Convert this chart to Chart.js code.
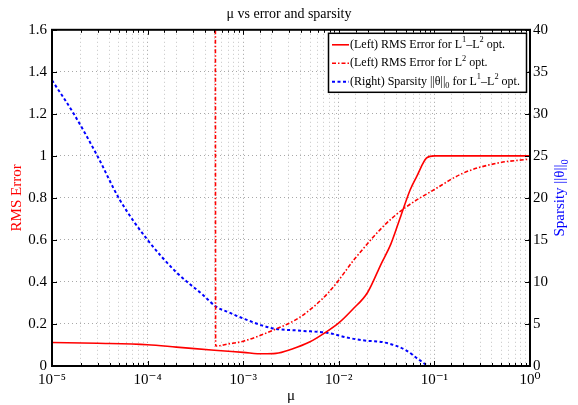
<!DOCTYPE html>
<html><head><meta charset="utf-8">
<script src="https://cdn.jsdelivr.net/npm/chart.js@4.4.1/dist/chart.umd.min.js"></script>
<style>html,body{margin:0;padding:0;background:#fff;overflow:hidden}#wrap{width:578px;height:405px;position:relative}</style>
</head><body><div id="wrap"><canvas id="c" width="578" height="405"></canvas></div>
<script>
// ---- data ----
const muL1L2  = [1e-5, 3e-5, 1e-4, 2e-4, 5e-4, 1e-3, 1.6e-3, 2.2e-3, 3.2e-3, 5e-3, 7e-3, 0.01, 0.014, 0.02, 0.028, 0.035, 0.045, 0.056, 0.065, 0.083, 0.1, 0.3, 1];
const rmsL1L2 = [0.112, 0.108, 0.101, 0.090, 0.075, 0.065, 0.058, 0.060, 0.080, 0.115, 0.155, 0.205, 0.27, 0.35, 0.49, 0.58, 0.72, 0.84, 0.90, 0.99, 1.0, 1.0, 1.0];

const muL2  = [5.1e-4, 5.15e-4, 7e-4, 1e-3, 2e-3, 4e-3, 8e-3, 0.015, 0.03, 0.05, 0.1, 0.2, 0.45, 1];
const rmsL2 = [3.0, 0.095, 0.105, 0.118, 0.168, 0.235, 0.355, 0.515, 0.67, 0.755, 0.84, 0.918, 0.965, 0.985];

const muSparsity = [1e-5, 1.67e-5, 2.95e-5, 5.1e-5, 1e-4, 2e-4, 3.8e-4, 5.2e-4, 7.2e-4, 9.3e-4, 2e-3, 4e-3, 8e-3, 0.012, 0.018, 0.03, 0.05, 0.07, 0.09, 0.2, 1];
const sparsity   = [34.0, 30.1, 25.1, 19.8, 15.0, 11.15, 8.45, 7.06, 6.35, 5.8, 4.5, 4.2, 3.9, 3.4, 3.05, 2.8, 1.9, 0.7, 0, 0, 0];

const xDecades = [-5, -4, -3, -2, -1, 0];
const leftTickStep = 0.2, leftMax = 1.6;
const rightTickStep = 5, rightMax = 40;

const titleText = 'μ vs error and sparsity';
const xTitle = 'μ';
const yTitle = 'RMS Error';
const legendRows = [
  [{t:'(Left) RMS Error for L'},{t:'1',s:1},{t:'–L'},{t:'2',s:1},{t:' opt.'}],
  [{t:'(Left) RMS Error for L'},{t:'2',s:1},{t:' opt.'}],
  [{t:'(Right) Sparsity ||θ||'},{t:'0',s:-1},{t:' for L'},{t:'1',s:1},{t:'–L'},{t:'2',s:1},{t:' opt.'}]
];
const y2Title = [{t:'Sparsity ||θ||'},{t:'0',s:-1}];

// ---- helpers ----
const SERIF = '"Liberation Serif", "DejaVu Serif", serif';
const sup = {'-':'⁻','0':'⁰','1':'¹','2':'²','3':'³','4':'⁴','5':'⁵','6':'⁶','7':'⁷','8':'⁸','9':'⁹'};
function toSup(n){ return String(n).split('').map(c=>sup[c]).join(''); }
const pts = (xs, ys) => xs.map((x,i)=>({x, y: ys[i]}));
const isDecade = v => Math.abs(Math.log10(v) - Math.round(Math.log10(v))) < 1e-9;

function richWidth(ctx, segs, size){
  let w = 0;
  segs.forEach(s=>{ ctx.font = (s.s ? size*0.7 : size) + 'px ' + SERIF; w += ctx.measureText(s.t).width; });
  return w;
}
function drawRich(ctx, segs, x, y, size, color){
  ctx.fillStyle = color; ctx.textBaseline = 'middle'; ctx.textAlign = 'left';
  segs.forEach(s=>{
    const fs = s.s ? size*0.7 : size;
    ctx.font = fs + 'px ' + SERIF;
    const dy = s.s === 1 ? -size*0.38 : (s.s === -1 ? size*0.32 : 0);
    ctx.fillText(s.t, x, y + dy);
    x += ctx.measureText(s.t).width;
  });
}

const framePlugin = {
  id: 'frame',
  afterDatasetsDraw(chart){
    const {ctx, chartArea: a, scales} = chart;
    ctx.save();
    // inward tick marks
    ctx.strokeStyle = '#000'; ctx.lineWidth = 1;
    ctx.beginPath();
    scales.x.ticks.forEach(t=>{
      const px = Math.round(scales.x.getPixelForValue(t.value)) + 0.5;
      const L = isDecade(t.value) ? 5 : 3;
      ctx.moveTo(px, a.bottom); ctx.lineTo(px, a.bottom - L);
      ctx.moveTo(px, a.top); ctx.lineTo(px, a.top + L);
    });
    scales.y.ticks.forEach(t=>{
      const py = Math.round(scales.y.getPixelForValue(t.value)) + 0.5;
      ctx.moveTo(a.left, py); ctx.lineTo(a.left + 5, py);
    });
    scales.y2.ticks.forEach(t=>{
      const py = Math.round(scales.y2.getPixelForValue(t.value)) + 0.5;
      ctx.moveTo(a.right, py); ctx.lineTo(a.right - 5, py);
    });
    ctx.stroke();
    // box
    ctx.lineWidth = 2;
    ctx.strokeRect(a.left, a.top, a.right - a.left, a.bottom - a.top);

    // legend
    const lw = 199, lh = 60;
    const lx = a.right - lw - 3, ly = a.top + 3;
    ctx.fillStyle = '#fff';
    ctx.fillRect(lx, ly, lw, lh);
    ctx.lineWidth = 1.5; ctx.strokeStyle = '#000';
    ctx.strokeRect(lx + 0.5, ly + 0.5, lw - 1, lh - 1);
    const ds = chart.data.datasets;
    [0, 1, 2].forEach((di, r)=>{
      const d = ds[di];
      const cy = ly + 12 + r * 18.5;
      ctx.save();
      ctx.strokeStyle = d.borderColor; ctx.lineWidth = d.borderWidth;
      ctx.setLineDash(d.borderDash || []);
      ctx.beginPath(); ctx.moveTo(lx + 4, cy); ctx.lineTo(lx + 21, cy); ctx.stroke();
      ctx.restore();
      drawRich(ctx, legendRows[r], lx + 22, cy, 12, '#000');
    });

    // right axis title (reads bottom to top)
    const size = 15;
    const w = richWidth(ctx, y2Title, size);
    ctx.translate(560, (a.top + a.bottom) / 2);
    ctx.rotate(-Math.PI/2);
    drawRich(ctx, y2Title, -w/2, 0, size, '#0000ff');
    ctx.restore();
  }
};

new Chart(document.getElementById('c'), {
  type: 'line',
  data: {
    datasets: [
      { label: '(Left) RMS Error for L1-L2 opt.', data: pts(muL1L2, rmsL1L2), yAxisID: 'y',
        borderColor: '#ff0000', borderWidth: 1.6, pointRadius: 0, cubicInterpolationMode: 'monotone' },
      { label: '(Left) RMS Error for L2 opt.', data: pts(muL2, rmsL2), yAxisID: 'y',
        borderColor: '#ff0000', borderWidth: 1.6, borderDash: [4, 2, 1.5, 2], pointRadius: 0, cubicInterpolationMode: 'monotone' },
      { label: '(Right) Sparsity', data: pts(muSparsity, sparsity), yAxisID: 'y2',
        borderColor: '#0000ff', borderWidth: 2, borderDash: [3, 2.5], pointRadius: 0, cubicInterpolationMode: 'monotone' }
    ]
  },
  options: {
    responsive: false, animation: false,
    layout: { padding: 0 },
    plugins: {
      legend: { display: false }, tooltip: { enabled: false },
      title: { display: true, text: titleText, color: '#000', font: { family: SERIF, size: 14, weight: 'normal' }, padding: { top: 6, bottom: 7 } }
    },
    scales: {
      x: {
        type: 'logarithmic', min: 1e-5, max: 1, position: 'bottom',
        afterFit(s){ s.height = 39; },
        border: { display: false, dash: [1, 3] },
        grid: { color: ctx => (ctx.tick && isDecade(ctx.tick.value)) ? '#a0a0a0' : '#c4c4c4', lineWidth: 1, drawTicks: false },
        ticks: {
          autoSkip: false, maxRotation: 0, padding: 5, color: '#000',
          font: { family: SERIF, size: 15 },
          callback(v){
            const e = Math.log10(v);
            return xDecades.some(d => Math.abs(d - e) < 1e-9) ? '10' + toSup(Math.round(e)) : '';
          }
        },
        title: { display: true, text: xTitle, color: '#000', font: { family: SERIF, size: 15 }, padding: { top: 0, bottom: 0 } }
      },
      y: {
        position: 'left', min: 0, max: leftMax,
        afterFit(s){ s.width = 52; },
        border: { display: false, dash: [1, 3] },
        grid: { color: '#a8a8a8', lineWidth: 1, drawTicks: false },
        ticks: { stepSize: leftTickStep, padding: 5, color: '#000', font: { family: SERIF, size: 15 },
          callback(v){ return String(parseFloat(v.toFixed(1))); } },
        title: { display: true, text: yTitle, color: '#ff0000', font: { family: SERIF, size: 15 }, padding: { top: 8, bottom: 0 } }
      },
      y2: {
        position: 'right', min: 0, max: rightMax,
        afterFit(s){ s.width = 48; },
        border: { display: false },
        grid: { display: false, drawTicks: false },
        ticks: { stepSize: rightTickStep, padding: 3, color: '#000', font: { family: SERIF, size: 15 } }
      }
    }
  },
  plugins: [framePlugin]
});
</script></body></html>
